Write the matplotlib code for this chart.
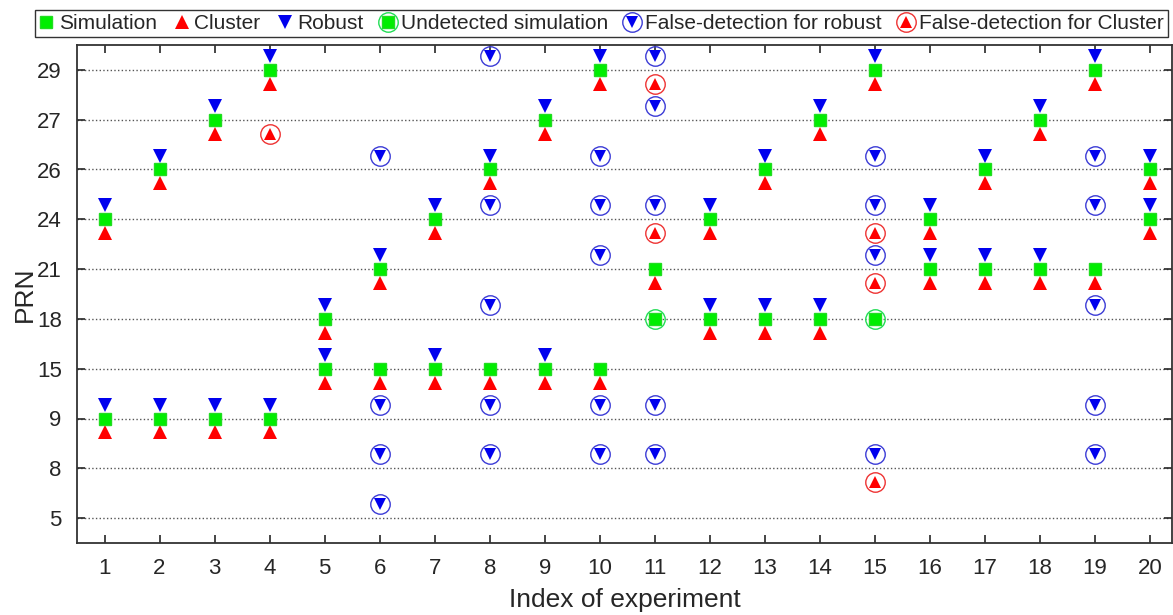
import matplotlib
matplotlib.use("Agg")
import matplotlib.pyplot as plt
from matplotlib.legend_handler import HandlerTuple

plt.rcParams['font.family'] = ['Liberation Sans', 'DejaVu Sans']

# --- DATA ---
prn_levels = [5, 8, 9, 15, 18, 21, 24, 26, 27, 29]
experiments = list(range(1, 21))

# two simulated PRNs per experiment
sim_prn_a = [24, 26, 27, 29, 18, 21, 24, 26, 27, 29, 21, 24, 26, 27, 29, 24, 26, 27, 29, 26]
sim_prn_b = [9, 9, 9, 9, 15, 15, 15, 15, 15, 15, 18, 18, 18, 18, 18, 21, 21, 21, 21, 24]

# simulated PRNs that were missed (experiment, PRN)
cluster_missed = [(11, 18), (15, 18)]
robust_missed = [(6, 15), (8, 15), (10, 15), (11, 21), (11, 18), (15, 18), (19, 21)]

undetected_exp = [11, 15]
undetected_prn = [18, 18]

robust_false_exp = [6, 6, 6, 6, 8, 8, 8, 8, 8, 10, 10, 10, 10, 10,
                    11, 11, 11, 11, 11, 15, 15, 15, 15, 19, 19, 19, 19, 19]
robust_false_prn = [26, 9, 8, 5, 29, 24, 18, 9, 8, 26, 24, 21, 9, 8,
                    29, 27, 24, 9, 8, 26, 24, 21, 8, 26, 24, 18, 9, 8]

cluster_false_exp = [4, 11, 11, 15, 15, 15]
cluster_false_prn = [27, 29, 24, 24, 21, 8]

# --- STYLE ---
GREEN = "#00ee00"
RED = "#ff0000"
BLUE = "#0000ee"
TXT = "#262626"
OFF = 0.28  # vertical offset of detection markers

pos = {p: i + 1 for i, p in enumerate(prn_levels)}

sim_x, sim_y = [], []
for e, a, b in zip(experiments, sim_prn_a, sim_prn_b):
    sim_x += [e, e]
    sim_y += [a, b]

clu_x = [x for x, y in zip(sim_x, sim_y) if (x, y) not in cluster_missed]
clu_y = [y for x, y in zip(sim_x, sim_y) if (x, y) not in cluster_missed]
rob_x = [x for x, y in zip(sim_x, sim_y) if (x, y) not in robust_missed]
rob_y = [y for x, y in zip(sim_x, sim_y) if (x, y) not in robust_missed]

fig = plt.figure(figsize=(11.73, 6.15), dpi=100)
ax = fig.add_axes([77 / 1173, 72 / 615, 1095 / 1173, 498 / 615])

h_sim, = ax.plot(sim_x, [pos[p] for p in sim_y], 's', color=GREEN, mec="#22dd22",
                 ms=8.5, ls='none', zorder=4)
h_clu, = ax.plot(clu_x, [pos[p] - OFF for p in clu_y], '^', color=RED, ms=10, mew=0,
                 ls='none', zorder=3)
h_rob, = ax.plot(rob_x, [pos[p] + OFF for p in rob_y], 'v', color=BLUE, ms=10, mew=0,
                 ls='none', zorder=3)

# undetected simulation: circle around the green square
h_und, = ax.plot(undetected_exp, [pos[p] for p in undetected_prn], 'o', mfc='none',
                 mec="#22dd55", ms=14, mew=1.0, ls='none', zorder=5)

# false detections: triangle inside a circle
h_rf_t, = ax.plot(robust_false_exp, [pos[p] + OFF for p in robust_false_prn], 'v',
                  color=BLUE, ms=8.5, mew=0, ls='none', zorder=3)
h_rf_c, = ax.plot(robust_false_exp, [pos[p] + OFF for p in robust_false_prn], 'o',
                  mfc='none', mec="#3b3bd6", ms=14, mew=1.0, ls='none', zorder=3)
h_cf_t, = ax.plot(cluster_false_exp, [pos[p] - OFF for p in cluster_false_prn], '^',
                  color=RED, ms=8.5, mew=0, ls='none', zorder=3)
h_cf_c, = ax.plot(cluster_false_exp, [pos[p] - OFF for p in cluster_false_prn], 'o',
                  mfc='none', mec="#ee3333", ms=14, mew=1.0, ls='none', zorder=3)

ax.set_xlim(0.5, 20.4)
ax.set_ylim(0.5, 10.5)
ax.set_xticks(experiments)
ax.set_yticks(range(1, len(prn_levels) + 1))
ax.set_yticklabels([str(p) for p in prn_levels])

ax.yaxis.grid(True, linestyle=':', color="#555555", linewidth=1.0)
ax.set_axisbelow(True)

ax.tick_params(direction='in', length=6, width=1.2, colors=TXT, labelsize=16,
               top=True, right=True)
ax.tick_params(axis='x', pad=11)
ax.tick_params(axis='y', pad=11)
for s in ax.spines.values():
    s.set_color("#333333")
    s.set_linewidth(1.3)

ax.set_xlabel("Index of experiment", fontsize=19, color=TXT, labelpad=6)
ax.set_ylabel("PRN", fontsize=19, color=TXT, labelpad=0)

# legend
h_und_leg = ax.plot([], [], 's', color=GREEN, mec="#22dd22", ms=8.5, ls='none')[0]
leg = fig.legend(
    [h_sim, h_clu, h_rob, (h_und_leg, h_und), (h_rf_c, h_rf_t), (h_cf_c, h_cf_t)],
    ["Simulation", "Cluster", "Robust", "Undetected simulation",
     "False-detection for robust", "False-detection for Cluster"],
    handler_map={tuple: HandlerTuple(ndivide=1)},
    loc='upper left', bbox_to_anchor=(35 / 1173, 1 - 10 / 615), ncol=6,
    fontsize=15, frameon=True, fancybox=False, framealpha=1, edgecolor="#333333",
    handlelength=0.7, handletextpad=0.25, columnspacing=0.83, borderpad=0.2,
    borderaxespad=0)
leg.get_frame().set_linewidth(1.0)
for t in leg.get_texts():
    t.set_color(TXT)

fig.savefig("out.png", dpi=100)
